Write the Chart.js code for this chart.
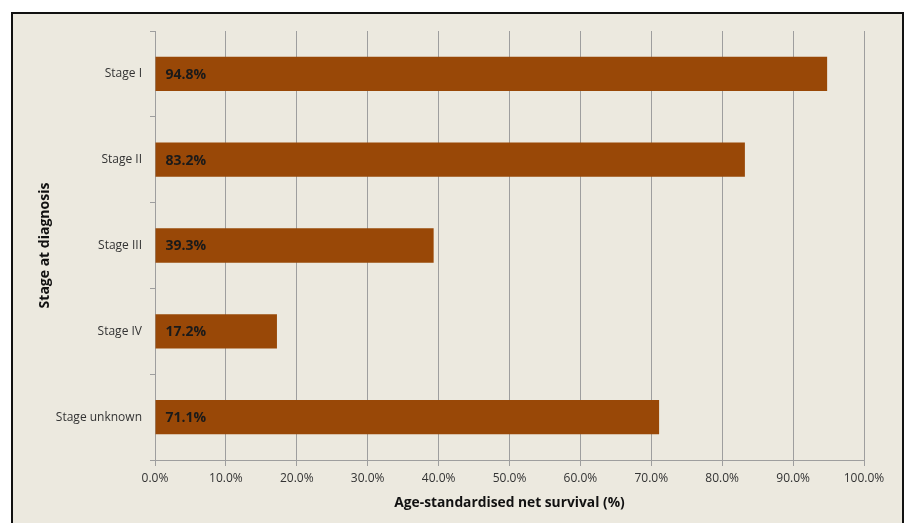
<!DOCTYPE html>
<html>
<head>
<meta charset="utf-8">
<script src="https://cdn.jsdelivr.net/npm/chart.js@4"></script>
<style>
  body { margin: 0; background: #fff; }
  #frame {
    position: absolute; left: 11px; top: 12px; width: 889px; height: 520px;
    border: 2px solid #111; background: #ECE9DF;
  }
  #wrap { position: absolute; left: 0; top: 0; width: 907px; height: 523px; }
</style>
</head>
<body>
<div id="frame"></div>
<div id="wrap"><canvas id="survivalChart" width="907" height="523"></canvas></div>
<script>
// Stage at diagnosis vs age-standardised net survival
const stages = ["Stage I", "Stage II", "Stage III", "Stage IV", "Stage unknown"];
const survival = [94.8, 83.2, 39.3, 17.2, 71.1];
const xTicks = [0, 10, 20, 30, 40, 50, 60, 70, 80, 90, 100];

const fontFamily = "'Open Sans', 'Liberation Sans', sans-serif";

// writes the value at the start of each bar
const barLabels = {
    id: 'barLabels',
    afterDatasetsDraw(chart) {
        const ctx = chart.ctx;
        const meta = chart.getDatasetMeta(0);
        ctx.save();
        ctx.font = "bold 14px " + fontFamily;
        ctx.fillStyle = "#1a1a1a";
        ctx.textAlign = "left";
        ctx.textBaseline = "middle";
        meta.data.forEach(function (bar, i) {
            ctx.fillText(survival[i].toFixed(1) + "%", bar.base + 10, bar.y + 1);
        });
        ctx.restore();
    }
};

var ctx = document.getElementById('survivalChart').getContext('2d');
new Chart(ctx, {
    type: 'bar',
    data: {
        labels: stages,
        datasets: [{
            data: survival,
            backgroundColor: '#994807',
            borderWidth: 0,
            categoryPercentage: 1,
            barPercentage: 0.4
        }]
    },
    options: {
        indexAxis: 'y',
        responsive: false,
        animation: false,
        layout: { padding: { left: 37, right: 43, top: 31, bottom: 12 } },
        plugins: {
            legend: { display: false },
            tooltip: { enabled: false }
        },
        scales: {
            x: {
                min: 0,
                max: 100,
                afterBuildTicks(scale) {
                    scale.ticks = xTicks.map(v => ({ value: v }));
                },
                afterFit(scale) { scale.height = 51; },
                grid: { color: '#9E9E9E', lineWidth: 1, tickLength: 6 },
                border: { color: '#9E9E9E' },
                ticks: {
                    color: '#333',
                    font: { family: fontFamily, size: 12 },
                    padding: 5,
                    maxRotation: 0,
                    callback: v => v.toFixed(1) + "%"
                },
                title: {
                    display: true,
                    text: 'Age-standardised net survival (%)',
                    color: '#111',
                    font: { family: fontFamily, size: 13.8, weight: 'bold' },
                    padding: { top: 1, bottom: 0 }
                }
            },
            y: {
                afterFit(scale) { scale.width = 118; },
                grid: { display: true, drawOnChartArea: false, offset: true, color: '#9E9E9E', tickLength: 5 },
                border: { color: '#9E9E9E' },
                ticks: {
                    color: '#333',
                    font: { family: fontFamily, size: 12 },
                    padding: 8
                },
                title: {
                    display: true,
                    text: 'Stage at diagnosis',
                    color: '#111',
                    font: { family: fontFamily, size: 14, weight: 'bold' },
                    padding: 0
                }
            }
        }
    },
    plugins: [barLabels]
});
</script>
</body>
</html>
